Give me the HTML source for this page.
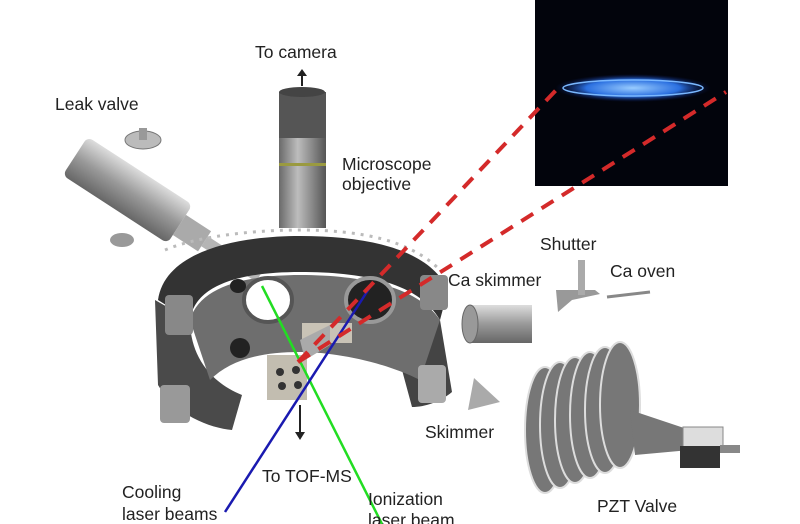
<!DOCTYPE html>
<html><head><style>
body{margin:0;background:#fff;width:800px;height:524px;overflow:hidden}
svg{display:block}
text{font-family:"Liberation Sans",sans-serif;font-size:17.5px;fill:#222}
</style></head><body>
<svg width="800" height="524" viewBox="0 0 800 524">
<defs>
<linearGradient id="met" x1="0" x2="1"><stop offset="0" stop-color="#6a6a6a"/><stop offset=".4" stop-color="#bdbdbd"/><stop offset=".7" stop-color="#8a8a8a"/><stop offset="1" stop-color="#555"/></linearGradient>
<linearGradient id="met2" x1="0" y1="0" x2="0" y2="1"><stop offset="0" stop-color="#ddd"/><stop offset=".5" stop-color="#999"/><stop offset="1" stop-color="#666"/></linearGradient>
<radialGradient id="glow" cx=".5" cy=".5" r=".5"><stop offset="0" stop-color="#9cf"/><stop offset=".6" stop-color="#2a6fe0"/><stop offset="1" stop-color="#0a1a60" stop-opacity="0"/></radialGradient>
</defs>
<rect x="535" y="0" width="193" height="186" fill="#02040c"/>
<ellipse cx="633" cy="88" rx="78" ry="14" fill="url(#glow)"/>
<ellipse cx="633" cy="88" rx="70" ry="8" fill="none" stroke="#7ab8ff" stroke-width="1.5"/>
<!-- leak valve -->
<g transform="rotate(33 130 200)">
<rect x="60" y="170" width="125" height="46" rx="6" fill="url(#met2)"/>
<rect x="185" y="182" width="30" height="24" fill="#aaa"/>
<rect x="215" y="188" width="65" height="12" fill="#b5b5b5"/>
</g>
<ellipse cx="143" cy="140" rx="18" ry="9" fill="#bbb" stroke="#777"/>
<rect x="139" y="128" width="8" height="12" fill="#999"/>
<ellipse cx="122" cy="240" rx="12" ry="7" fill="#999"/>
<!-- objective -->
<rect x="279" y="92" width="47" height="48" fill="#555"/>
<rect x="279" y="138" width="47" height="90" fill="url(#met)"/>
<rect x="279" y="163" width="47" height="3" fill="#9a9a40"/>
<ellipse cx="302" cy="92" rx="23" ry="5" fill="#444"/>
<path d="M302 86V72" stroke="#222" stroke-width="2"/><path d="M297 76l5-7 5 7z" fill="#222"/>
<!-- chamber -->
<path d="M158 300 C165 250 240 236 300 236 C370 236 430 250 448 290 L440 320 C420 285 370 272 300 272 C240 272 195 285 190 320 Z" fill="#333"/>
<path d="M155 300 L158 385 C175 415 210 428 232 430 L242 395 C205 380 190 350 190 320 Z" fill="#4a4a4a"/>
<path d="M440 320 L452 392 C440 402 425 407 412 407 L402 370 C420 350 430 335 440 320Z" fill="#444"/>
<path d="M190 320 C200 285 250 275 300 275 C370 275 420 290 440 320 L420 380 C380 360 330 352 300 352 C260 352 230 360 210 380 Z" fill="#6e6e6e"/>
<ellipse cx="268" cy="300" rx="24" ry="22" fill="#fff" stroke="#555" stroke-width="4"/>
<ellipse cx="370" cy="300" rx="24" ry="22" fill="#222" stroke="#999" stroke-width="4"/>
<ellipse cx="238" cy="286" rx="8" ry="7" fill="#222"/>
<ellipse cx="240" cy="348" rx="10" ry="10" fill="#222"/>
<path d="M165 250 C200 235 260 230 300 230 C360 230 410 240 440 270" fill="none" stroke="#bbb" stroke-width="3" stroke-dasharray="3 6"/>
<rect x="165" y="295" width="28" height="40" rx="4" fill="#888"/>
<rect x="160" y="385" width="30" height="38" rx="4" fill="#999"/>
<rect x="420" y="275" width="28" height="35" rx="4" fill="#888"/>
<rect x="418" y="365" width="28" height="38" rx="4" fill="#aaa"/>
<rect x="302" y="323" width="50" height="20" fill="#c9c3b6"/>
<path d="M300 340 L330 325 L330 345 L305 360Z" fill="#aaa"/>
<rect x="267" y="355" width="40" height="45" fill="#c2bdb0"/>
<circle cx="280" cy="372" r="4" fill="#333"/><circle cx="296" cy="370" r="4" fill="#333"/><circle cx="282" cy="386" r="4" fill="#333"/><circle cx="298" cy="385" r="4" fill="#333"/>
<line x1="262" y1="286" x2="382" y2="524" stroke="#2d2" stroke-width="2.5"/>
<line x1="372" y1="284" x2="225" y2="512" stroke="#1a1ab0" stroke-width="2.5"/>
<line x1="298" y1="362" x2="560" y2="86" stroke="#d42a2a" stroke-width="4" stroke-dasharray="14 10"/>
<line x1="298" y1="362" x2="726" y2="92" stroke="#d42a2a" stroke-width="4" stroke-dasharray="14 10"/>
<path d="M300 405V436" stroke="#222" stroke-width="2"/><path d="M295 432l5 8 5-8z" fill="#222"/>
<rect x="470" y="305" width="62" height="38" fill="url(#met2)"/>
<ellipse cx="470" cy="324" rx="8" ry="19" fill="#999" stroke="#666"/>
<path d="M556 290 L595 290 L600 294 L572 300 L558 312Z" fill="#999"/>
<rect x="578" y="260" width="7" height="35" fill="#aaa"/>
<path d="M607 297 L650 292" stroke="#888" stroke-width="3"/>
<path d="M474 378 L500 402 L468 410Z" fill="#aaa"/>
<g fill="#777" stroke="#ddd" stroke-width="2">
<ellipse cx="545" cy="430" rx="20" ry="63"/><ellipse cx="560" cy="425" rx="20" ry="63"/><ellipse cx="575" cy="420" rx="20" ry="63"/><ellipse cx="590" cy="415" rx="20" ry="63"/><ellipse cx="605" cy="410" rx="20" ry="63"/><ellipse cx="620" cy="405" rx="20" ry="63"/>
</g>
<path d="M630 410 L690 430 L690 450 L635 455Z" fill="#777"/>
<rect x="683" y="427" width="40" height="22" fill="#ddd" stroke="#888"/>
<rect x="680" y="446" width="40" height="22" fill="#333"/>
<rect x="720" y="445" width="20" height="8" fill="#888"/>
<text x="255" y="58">To camera</text>
<text x="55" y="110">Leak valve</text>
<text x="342" y="170">Microscope</text>
<text x="342" y="190">objective</text>
<text x="540" y="250">Shutter</text>
<text x="448" y="286">Ca skimmer</text>
<text x="610" y="277">Ca oven</text>
<text x="425" y="438">Skimmer</text>
<text x="262" y="482">To TOF-MS</text>
<text x="122" y="498">Cooling</text>
<text x="122" y="520">laser beams</text>
<text x="368" y="505">Ionization</text>
<text x="368" y="526">laser beam</text>
<text x="597" y="512">PZT Valve</text>
</svg>
</body></html>
